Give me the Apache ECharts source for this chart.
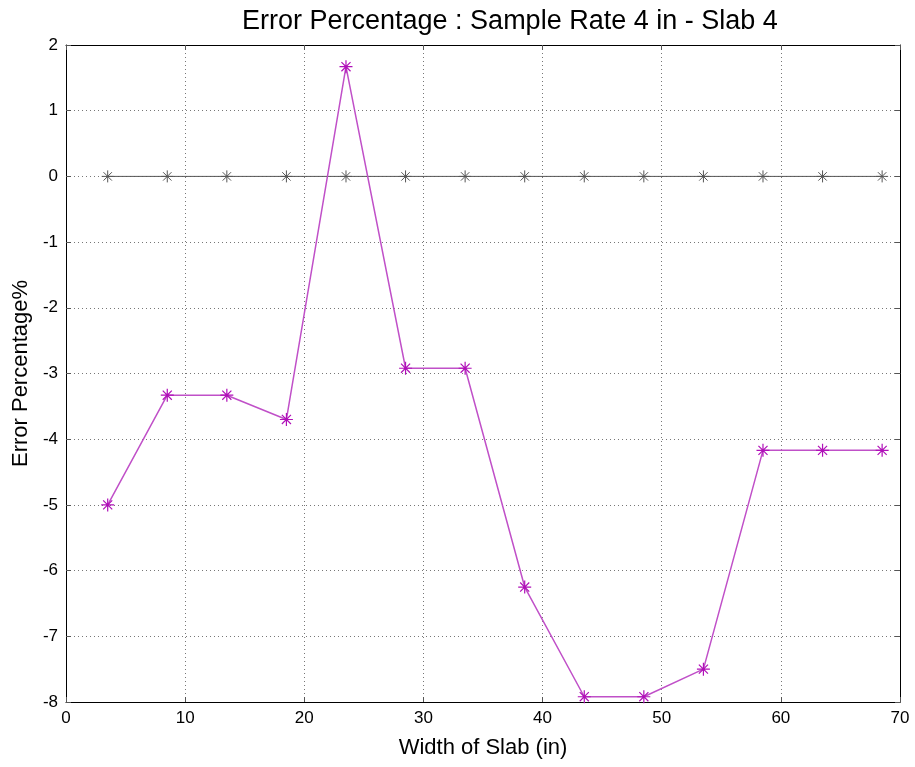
<!DOCTYPE html>
<html>
<head>
<meta charset="utf-8">
<script src="https://cdn.jsdelivr.net/npm/echarts@6/dist/echarts.min.js"></script>
<style>
html,body{margin:0;padding:0;background:#fff;}
#chart{width:915px;height:767px;}
</style>
</head>
<body>
<div id="chart"></div>
<script>
// slab width positions and error values
var widths = [3.5, 8.5, 13.5, 18.5, 23.5, 28.5, 33.5, 38.5, 43.5, 48.5, 53.5, 58.5, 63.5, 68.5];
var errorPct = [-5, -3.33, -3.33, -3.7, 1.67, -2.92, -2.92, -6.25, -7.92, -7.92, -7.5, -4.17, -4.17, -4.17];
var zeroRef = [0, 0, 0, 0, 0, 0, 0, 0, 0, 0, 0, 0, 0, 0];

var star = 'path://M0 5L10 5M5 0L5 10M1.5 1.5L8.5 8.5M1.5 8.5L8.5 1.5';
var font = '"Liberation Sans", Arial, sans-serif';

function pairs(xs, ys){
	var out = [];
	for(var i = 0;i<xs.length;i++){
		out.push([xs[i], ys[i]]);
	}
	return out;
}

var mycharts = echarts.init(document.getElementById('chart'));
var frameAxis = {
	axisLine : {show:true, onZero:false, lineStyle:{color:'#000', width:1}},
	axisTick : {show:true, inside:true, length:5, lineStyle:{color:'#555'}},
	axisLabel : {show:false},
	splitLine : {show:false}
};
var option = {
	backgroundColor : '#fff',
	animation : false,
	title : {
		text : 'Error Percentage : Sample Rate 4 in - Slab 4',
		left : 237,
		top : 3,
		textStyle : {fontFamily:font, fontSize:27, fontWeight:'normal', color:'#000'}
	},
	grid : {left:66, right:15, top:45, bottom:65},
	xAxis : [{
		type : 'value',
		min : 0, max : 70, interval : 10,
		name : 'Width of Slab (in)',
		nameLocation : 'middle',
		nameGap : 35,
		nameTextStyle : {fontFamily:font, fontSize:22, color:'#000'},
		axisLine : {onZero:false, lineStyle:{color:'#000'}},
		axisTick : {inside:true, length:5, lineStyle:{color:'#555'}},
		axisLabel : {fontFamily:font, fontSize:17, color:'#000', margin:8},
		splitLine : {show:true, lineStyle:{color:'#777', type:[1,3], width:1}}
	}, Object.assign({type:'value', position:'top', min:0, max:70, interval:10}, frameAxis)],
	yAxis : [{
		type : 'value',
		min : -8, max : 2, interval : 1,
		name : 'Error Percentage%',
		nameLocation : 'middle',
		nameGap : 33,
		nameTextStyle : {fontFamily:font, fontSize:22, color:'#000'},
		axisLine : {show:true, onZero:false, lineStyle:{color:'#000'}},
		axisTick : {show:true, inside:true, length:5, lineStyle:{color:'#555'}},
		axisLabel : {fontFamily:font, fontSize:17, color:'#000', margin:8},
		splitLine : {show:true, lineStyle:{color:'#777', type:[1,3], width:1}}
	}, Object.assign({type:'value', position:'right', min:-8, max:2, interval:1}, frameAxis)],
	series : [{
		type : 'line',
		data : pairs(widths, zeroRef),
		symbol : star,
		symbolSize : 12,
		showAllSymbol : true,
		lineStyle : {color:'#555', width:1},
		itemStyle : {color:'rgba(0,0,0,0)', borderColor:'#555', borderWidth:1}
	},{
		type : 'line',
		data : pairs(widths, errorPct),
		symbol : star,
		symbolSize : 13,
		showAllSymbol : true,
		lineStyle : {color:'#c050c8', width:1.5},
		itemStyle : {color:'rgba(0,0,0,0)', borderColor:'#b010b8', borderWidth:1.2}
	}]
};
mycharts.setOption(option);
</script>
</body>
</html>
